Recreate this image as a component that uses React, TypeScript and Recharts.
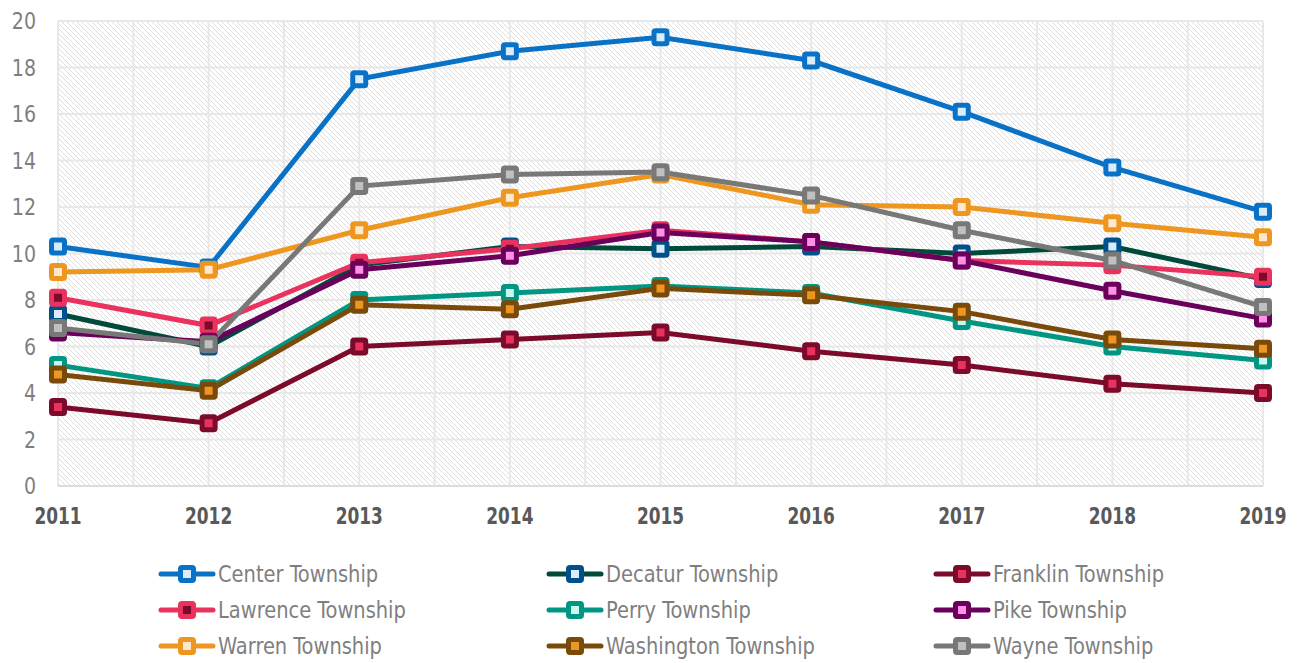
import React from "react";
import { LineChart, Line, XAxis, YAxis, CartesianGrid } from "recharts";

const years = [2011, 2012, 2013, 2014, 2015, 2016, 2017, 2018, 2019];
const yTicks = [0, 2, 4, 6, 8, 10, 12, 14, 16, 18, 20];
const xGridTicks = [2011, 2011.5, 2012, 2012.5, 2013, 2013.5, 2014, 2014.5, 2015, 2015.5, 2016, 2016.5, 2017, 2017.5, 2018, 2018.5, 2019];

const center = [10.3, 9.4, 17.5, 18.7, 19.3, 18.3, 16.1, 13.7, 11.8];
const decatur = [7.4, 6.0, 9.5, 10.3, 10.2, 10.3, 10.0, 10.3, 8.9];
const franklin = [3.4, 2.7, 6.0, 6.3, 6.6, 5.8, 5.2, 4.4, 4.0];
const lawrence = [8.1, 6.9, 9.6, 10.2, 11.0, 10.5, 9.7, 9.5, 9.0];
const perry = [5.2, 4.2, 8.0, 8.3, 8.6, 8.3, 7.1, 6.0, 5.4];
const pike = [6.6, 6.2, 9.3, 9.9, 10.9, 10.5, 9.7, 8.4, 7.2];
const warren = [9.2, 9.3, 11.0, 12.4, 13.4, 12.1, 12.0, 11.3, 10.7];
const washington = [4.8, 4.1, 7.8, 7.6, 8.5, 8.2, 7.5, 6.3, 5.9];
const wayne = [6.8, 6.1, 12.9, 13.4, 13.5, 12.5, 11.0, 9.7, 7.7];

const seriesNames = [
  "Center Township",
  "Decatur Township",
  "Franklin Township",
  "Lawrence Township",
  "Perry Township",
  "Pike Township",
  "Warren Township",
  "Washington Township",
  "Wayne Township",
];
const seriesValues = [center, decatur, franklin, lawrence, perry, pike, warren, washington, wayne];
const lineColors = ["#0a72c6", "#004a3c", "#7c0a2a", "#e9325e", "#009682", "#6a005c", "#ee9720", "#7a4a0a", "#787878"];
const markerStrokes = ["#0a72c6", "#00508c", "#7c0a2a", "#e9325e", "#009682", "#6a005c", "#ee9720", "#7a4a0a", "#787878"];
const markerFills = ["#d8ecfa", "#d8ecfa", "#e9325e", "#7c0a2a", "#c8f8ee", "#ff90e6", "#fde8d0", "#ee9720", "#c0c0c0"];

const data = years.map((y, i) => {
  const row: Record<string, number> = { year: y };
  seriesNames.forEach((n, k) => {
    row[n] = seriesValues[k][i];
  });
  return row;
});

const FONT = '"DejaVu Sans Condensed", "Liberation Sans Narrow", sans-serif';

const makeDot = (k: number) => (props: any) => {
  const { cx, cy, index } = props;
  if (cx == null || cy == null) return <g key={`d-${k}-${index}`} />;
  return (
    <rect
      key={`d-${k}-${index}`}
      x={cx - 6.5}
      y={cy - 6.5}
      width={13}
      height={13}
      rx={1.5}
      fill={markerFills[k]}
      stroke={markerStrokes[k]}
      strokeWidth={5}
    />
  );
};

const XTick = (props: any) => {
  const { x, y, payload } = props;
  if (!Number.isInteger(payload.value)) return <g />;
  return (
    <g transform={`translate(${x},${y}) scale(0.82,1)`}>
      <text x={0} y={38} textAnchor="middle" fontFamily={FONT} fontSize={23} fontWeight={700} fill="#595959">
        {payload.value}
      </text>
    </g>
  );
};

const YTick = (props: any) => {
  const { x, y, payload } = props;
  return (
    <g transform={`translate(${x},${y}) scale(0.92,1)`}>
      <text x={0} y={8} textAnchor="end" fontFamily={FONT} fontSize={23} fill="#7f7f7f">
        {payload.value}
      </text>
    </g>
  );
};

const LegendItem = ({ k }: { k: number }) => (
  <div style={{ display: "flex", alignItems: "center", height: 36, whiteSpace: "nowrap" }}>
    <svg width={60} height={20} style={{ display: "block" }}>
      <line x1={3} y1={10} x2={55} y2={10} stroke={lineColors[k]} strokeWidth={5} strokeLinecap="round" />
      <rect x={22.5} y={3.5} width={13} height={13} rx={1.5} fill={markerFills[k]} stroke={markerStrokes[k]} strokeWidth={5} />
    </svg>
    <span
      style={{
        fontFamily: FONT,
        fontSize: 23,
        color: "#7f7f7f",
        display: "inline-block",
        transform: "scaleX(0.94)",
        transformOrigin: "left center",
      }}
    >
      {seriesNames[k]}
    </span>
  </div>
);

export default function App() {
  const colLefts = [158, 546, 933];
  return (
    <div style={{ position: "absolute", left: 0, top: 0, width: 1299, height: 663, background: "#fff" }}>
      <LineChart width={1299} height={663} data={data} margin={{ top: 21, right: 36, bottom: 137, left: 0 }}>
        <defs>
          <pattern id="hatch" patternUnits="userSpaceOnUse" width={5} height={5}>
            <rect width={5} height={5} fill="#ffffff" />
            <path d="M-1,-1 L6,6 M4,-1 L6,1 M-1,4 L1,6" stroke="#dedede" strokeWidth={1} />
          </pattern>
        </defs>
        <CartesianGrid fill="url(#hatch)" stroke="#e8e8e8" strokeWidth={2} />
        <XAxis
          dataKey="year"
          type="number"
          domain={[2011, 2019]}
          ticks={xGridTicks}
          interval={0}
          tickLine={false}
          tickSize={0}
          tickMargin={0}
          height={40}
          axisLine={{ stroke: "#dcdcdc", strokeWidth: 2 }}
          tick={<XTick />}
        />
        <YAxis
          domain={[0, 20]}
          ticks={yTicks}
          interval={0}
          width={58}
          tickLine={false}
          axisLine={false}
          tickSize={0}
          tickMargin={22}
          tick={<YTick />}
        />
        {seriesNames.map((n, k) => (
          <Line
            key={n}
            dataKey={n}
            type="linear"
            stroke={lineColors[k]}
            strokeWidth={5}
            dot={makeDot(k)}
            activeDot={false}
            isAnimationActive={false}
          />
        ))}
      </LineChart>
      {[0, 1, 2].map((row) => (
        <React.Fragment key={row}>
          {[0, 1, 2].map((col) => (
            <div key={col} style={{ position: "absolute", left: colLefts[col], top: 556 + row * 36 }}>
              <LegendItem k={row * 3 + col} />
            </div>
          ))}
        </React.Fragment>
      ))}
    </div>
  );
}
